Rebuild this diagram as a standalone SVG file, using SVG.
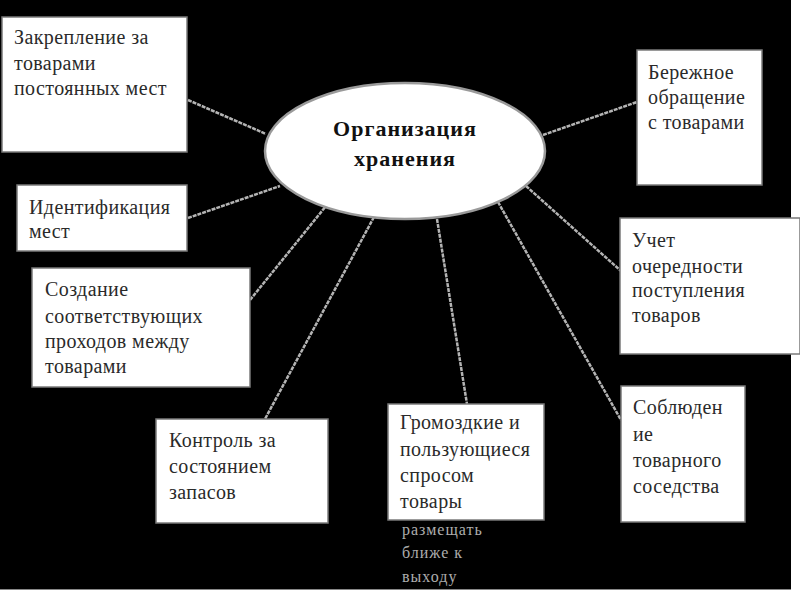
<svg xmlns="http://www.w3.org/2000/svg" width="800" height="600" viewBox="0 0 800 600">
<style>
.box{fill:#fff;stroke:#7a7a7a;stroke-width:1.5}
.t{font-family:"Liberation Serif","Times New Roman",serif;font-size:20px;letter-spacing:0.4px;fill:#2a2a2a}
.c{font-family:"Liberation Serif","Times New Roman",serif;font-size:22px;letter-spacing:1px;font-weight:bold;fill:#111;text-anchor:middle}
.ln{stroke:#b4b4b4;stroke-width:2.5;stroke-dasharray:4 1;fill:none}
.ghost{font-family:"Liberation Serif","Times New Roman",serif;font-size:16px;fill:#d8d8d8;opacity:0.8;letter-spacing:1px}
</style>
<rect x="0" y="0" width="800" height="600" fill="#fff"/>
<rect x="0" y="0" width="791" height="589" fill="#000"/>
<line x1="0" y1="589.5" x2="791" y2="589.5" stroke="#888" stroke-width="1"/>
<g id="connectors">
<line class="ln" x1="188" y1="100" x2="266" y2="134"/>
<line class="ln" x1="188" y1="218" x2="280" y2="186"/>
<line class="ln" x1="250" y1="300" x2="326" y2="206"/>
<line class="ln" x1="374" y1="217" x2="265" y2="419"/>
<line class="ln" x1="437" y1="219" x2="467" y2="404"/>
<line class="ln" x1="498" y1="202" x2="621" y2="420"/>
<line class="ln" x1="526" y1="186" x2="621" y2="271"/>
<line class="ln" x1="543" y1="135" x2="637" y2="102"/>
</g>
<g id="center">
<ellipse cx="405" cy="151" rx="140" ry="68" fill="#fff" stroke="#9a9a9a" stroke-width="2.5"/>
<text class="c" x="405" y="136">Организация</text>
<text class="c" x="405" y="166">хранения</text>
</g>
<g id="n1">
<rect class="box" x="2" y="17" width="185" height="135"/>
<text class="t" x="14" y="44">Закрепление за</text>
<text class="t" x="14" y="70">товарами</text>
<text class="t" x="14" y="95">постоянных мест</text>
</g>
<g id="n2">
<rect class="box" x="17" y="185" width="170" height="66"/>
<text class="t" x="29" y="214">Идентификация</text>
<text class="t" x="29" y="238">мест</text>
</g>
<g id="n3">
<rect class="box" x="32" y="268" width="218" height="119"/>
<text class="t" x="45" y="296">Создание</text>
<text class="t" x="45" y="323">соответствующих</text>
<text class="t" x="45" y="348">проходов между</text>
<text class="t" x="45" y="373">товарами</text>
</g>
<g id="n4">
<rect class="box" x="156" y="419" width="172" height="104"/>
<text class="t" x="169" y="447">Контроль за</text>
<text class="t" x="169" y="473">состоянием</text>
<text class="t" x="169" y="499">запасов</text>
</g>
<g id="n5">
<rect class="box" x="388" y="404" width="156" height="116"/>
<text class="t" x="400" y="429">Громоздкие и</text>
<text class="t" x="400" y="456">пользующиеся</text>
<text class="t" x="400" y="482">спросом</text>
<text class="t" x="400" y="508">товары</text>
<text class="ghost" x="402" y="535">размещать</text>
<text class="ghost" x="402" y="558">ближе к</text>
<text class="ghost" x="402" y="582">выходу</text>
</g>
<g id="n6">
<rect class="box" x="621" y="386" width="124" height="136"/>
<text class="t" x="633" y="414">Соблюден</text>
<text class="t" x="633" y="441">ие</text>
<text class="t" x="633" y="467">товарного</text>
<text class="t" x="633" y="493">соседства</text>
</g>
<g id="n7">
<rect class="box" x="620" y="218" width="180" height="136"/>
<text class="t" x="632" y="247">Учет</text>
<text class="t" x="632" y="273">очередности</text>
<text class="t" x="632" y="297">поступления</text>
<text class="t" x="632" y="322">товаров</text>
</g>
<g id="n8">
<rect class="box" x="637" y="50" width="125" height="135"/>
<text class="t" x="648" y="79">Бережное</text>
<text class="t" x="648" y="104">обращение</text>
<text class="t" x="648" y="129">с товарами</text>
</g>
</svg>
